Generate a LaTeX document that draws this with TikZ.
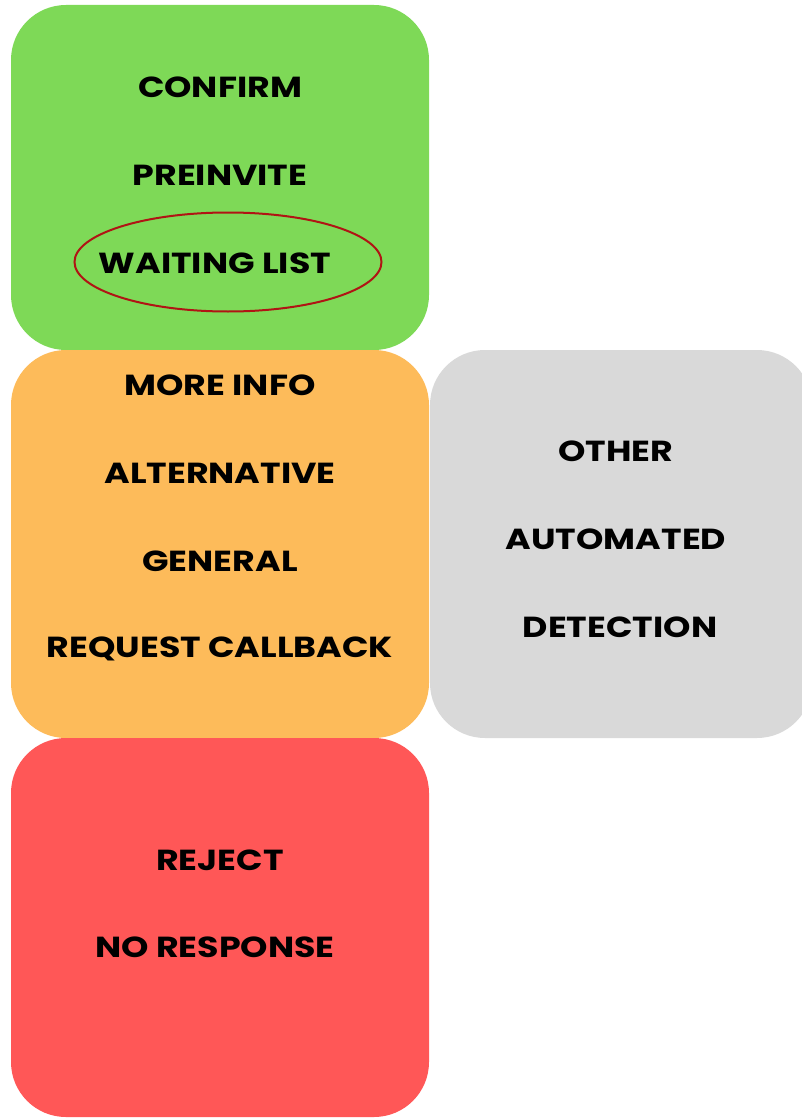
\documentclass[tikz,border=0pt]{standalone}
\usepackage{fontspec}
\setmainfont{Poppins}[FakeStretch=1.2]
\usetikzlibrary{shapes, positioning}
\definecolor{MyGreen}{HTML}{7ED957}
\definecolor{MyOrange}{HTML}{FDBB5A}
\definecolor{MyRed}{HTML}{FF5757}
\definecolor{MyGray}{HTML}{D9D9D9}
\definecolor{MyCircle}{HTML}{B01414}

\begin{document}
\begin{tikzpicture} [
			x=1pt, y=-1pt,
			every node/.style={font=\bfseries\fontsize{29}{34}\selectfont,align=center},
			tier/.style={draw=none,rectangle,rounded corners=55pt,minimum width=418pt},
			legend/.style={draw=none,fill=none,inner sep=0pt},
			ring/.style={draw=MyCircle,ellipse,line width=2pt,minimum width=307pt,minimum height=99pt}
		]
			\useasboundingbox (0,0) rectangle (802,1118);
			\clip (0,0) rectangle (802,1118);
			\node at (220,177.5) [tier,fill=MyGreen,minimum height=345pt] (nodeAccept) {};
			\node at (220,544) [tier,fill=MyOrange,minimum height=388pt] (nodeMaybe) {};
			\node at (621,544) [tier,fill=MyGray,minimum width=382pt,minimum height=388pt] (nodeOther) {};
			\node at (220,927.5) [tier,fill=MyRed,minimum height=379pt] (nodeReject) {};
			\node at (220,87) [legend] (legConfirm) {CONFIRM};
			\node at (220,175) [legend] (legPreinvite) {PREINVITE};
			\node at (215,263) [legend] (legWaiting) {WAITING LIST};
			\node at (228,262) [ring] (ringWaiting) {};
			\node at (220,385) [legend] (legMoreInfo) {MORE INFO};
			\node at (220,473) [legend] (legAlternative) {ALTERNATIVE};
			\node at (220,561) [legend] (legGeneral) {GENERAL};
			\node at (220,649) [legend] (legCallback) {REQUEST CALLBACK};
			\node at (616,451) [legend] (legOther) {OTHER};
			\node at (616,539) [legend] (legAutomated) {AUTOMATED};
			\node at (620,627) [legend] (legDetection) {DETECTION};
			\node at (220,860) [legend] (legRejectTxt) {REJECT};
			\node at (215,947) [legend] (legNoResponse) {NO RESPONSE};
		\end{tikzpicture}
\end{document}
